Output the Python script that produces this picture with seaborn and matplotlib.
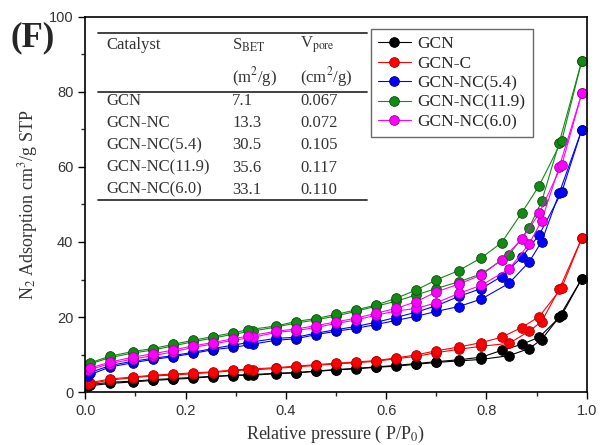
import pandas as pd
import matplotlib.pyplot as plt
import seaborn as sns
from matplotlib.ticker import MultipleLocator

# Relative pressure points (adsorption goes up, desorption comes back down)
ads_x = [0.005, 0.05, 0.095, 0.135, 0.175, 0.215, 0.255, 0.295, 0.335, 0.38, 0.42, 0.46,
         0.50, 0.54, 0.58, 0.62, 0.66, 0.70, 0.745, 0.79, 0.845, 0.885, 0.91, 0.945, 0.99]
des_x = [0.99, 0.95, 0.905, 0.87, 0.83, 0.79, 0.745, 0.70, 0.66, 0.62, 0.58, 0.54,
         0.50, 0.46, 0.42, 0.38, 0.325, 0.295, 0.255, 0.215, 0.175, 0.135, 0.095, 0.05, 0.01]

gcn_ads = [1.6, 2.3, 2.7, 3.1, 3.4, 3.7, 4.1, 4.4, 4.5, 4.9, 5.1, 5.5, 5.9, 6.2, 6.6, 6.9,
           7.4, 7.9, 8.3, 8.7, 9.7, 11.6, 14.0, 20.0, 30.2]
gcn_des = [30.2, 20.5, 14.6, 12.7, 11.1, 9.3, 8.6, 8.1, 7.6, 7.1, 6.7, 6.3, 6.0, 5.6, 5.2,
           5.0, 4.6, 4.5, 4.2, 3.9, 3.6, 3.3, 2.9, 2.6, 2.0]

gcnc_ads = [2.1, 3.2, 3.8, 4.3, 4.5, 4.9, 5.2, 5.7, 5.9, 6.3, 6.7, 7.1, 7.5, 7.8, 8.2, 8.9,
            9.5, 10.5, 11.4, 12.2, 13.0, 16.2, 18.8, 27.4, 41.0]
gcnc_des = [41.0, 27.8, 20.1, 17.2, 14.6, 13.2, 12.0, 11.0, 9.9, 9.1, 8.4, 8.0, 7.7, 7.3, 6.9,
            6.5, 6.1, 5.9, 5.4, 5.1, 4.8, 4.5, 4.0, 3.5, 2.5]

nc54_ads = [4.4, 6.7, 7.8, 8.7, 9.4, 10.3, 11.3, 11.9, 12.8, 13.8, 14.2, 15.3, 16.2, 17.0,
            18.0, 19.1, 20.2, 21.5, 22.8, 24.8, 29.0, 34.7, 40.1, 53.0, 69.9]
nc54_des = [69.9, 53.3, 41.9, 35.9, 30.8, 27.6, 25.5, 23.0, 21.3, 19.9, 18.6, 17.5, 16.6,
            15.7, 14.6, 14.3, 13.2, 12.5, 11.6, 10.6, 9.7, 9.0, 8.2, 7.1, 5.2]

nc119_ads = [7.3, 9.2, 10.4, 11.2, 12.3, 13.4, 14.4, 15.4, 16.3, 17.3, 18.4, 19.2, 20.3, 21.5,
             22.9, 24.2, 25.9, 27.6, 29.4, 31.5, 36.5, 43.8, 50.8, 66.5, 88.3]
nc119_des = [88.3, 67.0, 55.0, 47.7, 39.8, 35.8, 32.4, 29.9, 27.2, 25.0, 23.2, 21.9, 20.7,
             19.6, 18.8, 17.6, 16.6, 15.8, 14.8, 13.8, 12.7, 11.6, 10.8, 9.6, 7.8]

nc60_ads = [5.8, 7.6, 8.8, 9.7, 10.7, 11.9, 12.8, 13.8, 14.6, 15.9, 16.4, 17.2, 18.3, 19.2,
            20.5, 21.6, 22.3, 23.8, 26.3, 28.5, 32.8, 39.5, 45.7, 60.0, 79.6]
nc60_des = [79.6, 60.5, 47.6, 40.7, 35.2, 31.2, 28.8, 26.7, 24.1, 22.3, 21.0, 19.7, 18.7,
            17.7, 16.8, 16.2, 14.9, 14.2, 13.2, 12.3, 11.2, 10.2, 9.3, 8.0, 6.4]

labels = ["GCN", "GCN-C", "GCN-NC(5.4)", "GCN-NC(11.9)", "GCN-NC(6.0)"]
colors = ["black", "red", "blue", "#138a13", "magenta"]
edges = ["#000000", "#b00000", "#00008b", "#0a4d0a", "#a000a0"]
ads_all = [gcn_ads, gcnc_ads, nc54_ads, nc119_ads, nc60_ads]
des_all = [gcn_des, gcnc_des, nc54_des, nc119_des, nc60_des]

# Table in the inset
tab_names = ["GCN", "GCN-NC", "GCN-NC(5.4)", "GCN-NC(11.9)", "GCN-NC(6.0)"]
tab_sbet = ["7.1", "13.3", "30.5", "35.6", "33.1"]
tab_vpore = ["0.067", "0.072", "0.105", "0.117", "0.110"]

sns.set_style("ticks")
plt.rcParams["font.family"] = ["Liberation Sans", "DejaVu Sans"]
plt.rcParams["mathtext.fontset"] = "stix"
serif = ["Liberation Serif", "DejaVu Serif"]

fig = plt.figure(figsize=(6, 4.45), dpi=100)
ax = fig.add_axes([0.142, 0.119, 0.836, 0.843])

for lab, col, ec, ya, yd in zip(labels, colors, edges, ads_all, des_all):
    style = dict(color=col, marker="o", markersize=7, markeredgecolor=ec,
                 markeredgewidth=0.6, linewidth=0.8, estimator=None, sort=False, ax=ax)
    sns.lineplot(x=ads_x, y=ya, label=lab, **style)
    sns.lineplot(x=des_x, y=yd, **style)

ax.set_xlim(0, 1.0)
ax.set_ylim(0, 100)
ax.xaxis.set_major_locator(MultipleLocator(0.2))
ax.xaxis.set_minor_locator(MultipleLocator(0.1))
ax.yaxis.set_major_locator(MultipleLocator(20))
ax.yaxis.set_minor_locator(MultipleLocator(10))
ax.tick_params(which="major", direction="out", length=5, width=1, labelsize=10.5,
               colors="black", labelcolor="#333333")
ax.tick_params(which="minor", direction="out", length=3, width=1)
for s in ax.spines.values():
    s.set_linewidth(1.2)
    s.set_color("black")

ax.set_xlabel("Relative pressure ( P/P$_0$)", family=serif, fontsize=13, color="#333333")
ax.set_ylabel("N$_2$ Adsorption cm$^3$/g STP", family=serif, fontsize=13, color="#333333",
              labelpad=6)

leg = ax.legend(loc="upper right", bbox_to_anchor=(0.892, 0.968), borderaxespad=0,
                frameon=True, fancybox=False, edgecolor="#444444",
                prop={"family": serif, "size": 12.5},
                handlelength=1.9, borderpad=0.4, labelspacing=0.2, handletextpad=0.4)
leg.get_frame().set_linewidth(1.0)

# inset table
tx = ax.transAxes
def px(xp, yp):
    return ((xp - 85) / 502, (392 - yp) / 375)

for yp in (33, 92, 200):
    x0, y0 = px(98, yp)
    x1, _ = px(367, yp)
    ax.plot([x0, x1], [y0, y0], color="#333333", lw=1.3, transform=tx)

tkw = dict(transform=tx, family=serif, fontsize=12, color="#333333", va="center")
ax.text(*px(106, 45), "Catalyst", **tkw)
ax.text(*px(232, 45), "S$_{\\rm BET}$", **tkw)
ax.text(*px(300, 45), "V$_{\\rm pore}$", **tkw)
ax.text(*px(232, 77), "(m$^2$/g)", **tkw)
ax.text(*px(300, 77), "(cm$^2$/g)", **tkw)
for i, (n, s, v) in enumerate(zip(tab_names, tab_sbet, tab_vpore)):
    yp = 101 + i * 22.2
    ax.text(*px(106, yp), n, **tkw)
    ax.text(*px(232, yp), s, **tkw)
    ax.text(*px(300, yp), v, **tkw)

fig.text(0.018, 0.915, "(F)", family=serif, fontsize=25, fontweight="bold", va="center")

fig.savefig("out.png", dpi=100)
